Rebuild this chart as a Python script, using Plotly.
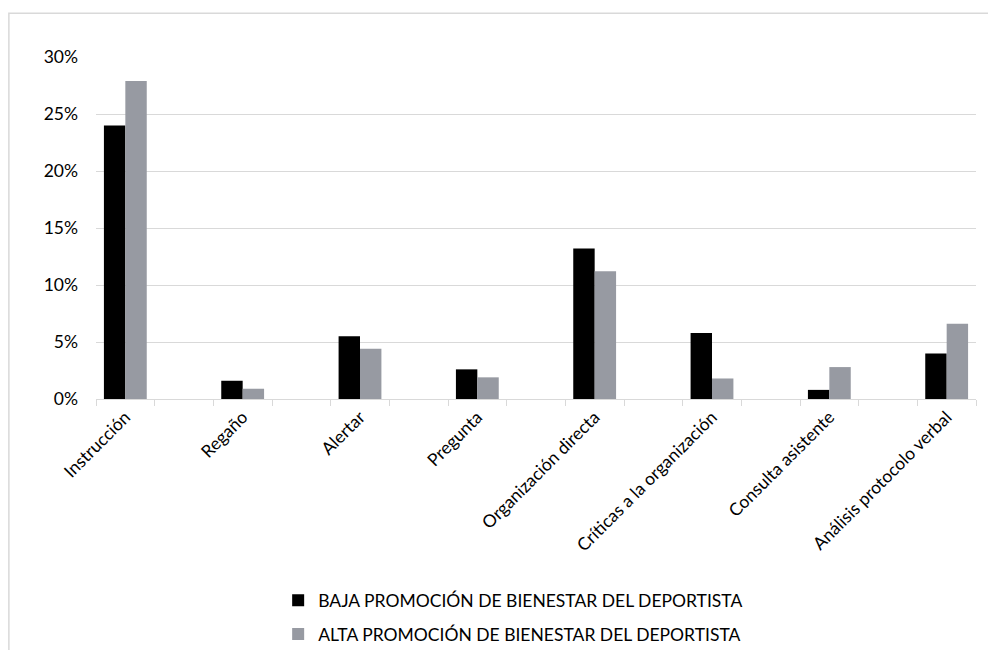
import plotly.graph_objects as go

# Categories (behaviour types) and percentage of each group
categorias = [
    "Instrucción",
    "Regaño",
    "Alertar",
    "Pregunta",
    "Organización directa",
    "Críticas a la organización",
    "Consulta asistente",
    "Análisis protocolo verbal",
]
baja = [24.0, 1.6, 5.5, 2.6, 13.2, 5.8, 0.8, 4.0]
alta = [27.9, 0.9, 4.4, 1.9, 11.2, 1.8, 2.8, 6.6]

serie_baja = "BAJA PROMOCIÓN DE BIENESTAR DEL DEPORTISTA"
serie_alta = "ALTA PROMOCIÓN DE BIENESTAR DEL DEPORTISTA"

y_ticks = [0, 5, 10, 15, 20, 25, 30]

# each category sits on every other slot of the axis, leaving an empty slot between groups
pos = [2 * i for i in range(len(categorias))]
boundaries = [b - 0.5 for b in range(2 * len(categorias))]
bar_w = 0.365

fig = go.Figure()
fig.add_trace(go.Bar(
    x=pos, y=[v / 100 for v in baja], name=serie_baja,
    marker=dict(color="#000000", line=dict(width=0)),
    width=bar_w, offset=-bar_w, legendgroup="a",
))
fig.add_trace(go.Bar(
    x=pos, y=[v / 100 for v in alta], name=serie_alta,
    marker=dict(color="#979aa2", line=dict(width=0)),
    width=bar_w, offset=0, legendgroup="b",
))

font = "Lato, 'Open Sans', sans-serif"
fsize = 17.5

fig.update_layout(
    width=988, height=650,
    margin=dict(l=96, r=12, t=57, b=251, autoexpand=False),
    paper_bgcolor="white", plot_bgcolor="white",
    barmode="overlay",
    font=dict(family=font, size=fsize, color="#000000"),
    showlegend=True,
    legend=dict(
        orientation="v", x=0.207, xanchor="left", y=-0.536, yanchor="top",
        font=dict(family=font, size=fsize, color="#000000"),
        traceorder="grouped", tracegroupgap=8,
        itemclick=False,
    ),
    xaxis=dict(
        range=[-0.5, 2 * len(categorias) - 1.5],
        tickmode="array", tickvals=pos, ticktext=categorias,
        tickangle=-45, ticks="", showgrid=False, zeroline=False,
        automargin=False,
        showline=True, linecolor="#d9d9d9", linewidth=1.3,
        tickfont=dict(family=font, size=fsize, color="#000000"),
        minor=dict(tickmode="array", tickvals=boundaries, ticks="outside",
                   ticklen=6, tickcolor="#d9d9d9", tickwidth=1.3, showgrid=False),
    ),
    yaxis=dict(
        range=[0, 0.30], tickvals=[t / 100 for t in y_ticks],
        ticktext=[f"{t}%" for t in y_ticks],
        showgrid=True, gridcolor="#d9d9d9", gridwidth=1.3,
        zeroline=False, showline=False, ticks="",
        automargin=False,
        ticklabelstandoff=17,
        tickfont=dict(family=font, size=fsize, color="#000000"),
    ),
    shapes=[dict(
        type="rect", xref="paper", yref="paper",
        x0=-0.099, x1=1.2, y0=-1.2, y1=1.128,
        line=dict(color="#d9d9d9", width=1.5), fillcolor="rgba(0,0,0,0)",
        layer="below",
    )],
)

fig.write_html("out.html")
